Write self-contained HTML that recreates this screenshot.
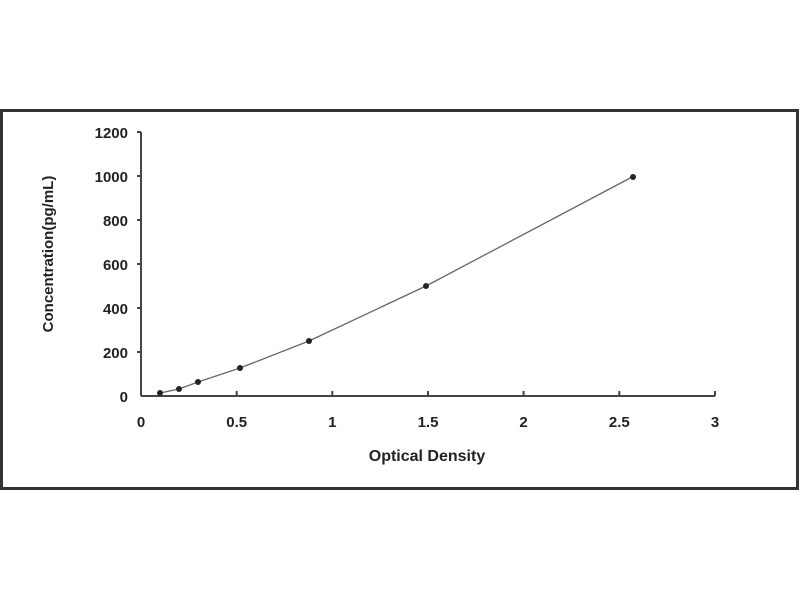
<!DOCTYPE html>
<html><head><style>body{margin:0;background:#fff}svg{display:block}</style></head><body>
<svg width="800" height="600" xmlns="http://www.w3.org/2000/svg" font-family="Liberation Sans, sans-serif" font-weight="bold" fill="#222">
<rect x="1.5" y="110.5" width="796" height="378" fill="#fff" stroke="#333" stroke-width="3"/>
<g stroke="#444" stroke-width="2" fill="none">
<line x1="141" y1="132" x2="141" y2="396"/>
<line x1="141" y1="396" x2="715" y2="396"/>
<line x1="137" y1="132" x2="141" y2="132"/><line x1="137" y1="176" x2="141" y2="176"/><line x1="137" y1="220" x2="141" y2="220"/><line x1="137" y1="264" x2="141" y2="264"/><line x1="137" y1="308" x2="141" y2="308"/><line x1="137" y1="352" x2="141" y2="352"/>
<line x1="236.7" y1="391" x2="236.7" y2="396"/><line x1="332.3" y1="391" x2="332.3" y2="396"/><line x1="428" y1="391" x2="428" y2="396"/><line x1="523.6" y1="391" x2="523.6" y2="396"/><line x1="619.3" y1="391" x2="619.3" y2="396"/><line x1="715" y1="391" x2="715" y2="396"/>
</g>
<g font-size="15" text-anchor="end">
<text x="128" y="138">1200</text><text x="128" y="182">1000</text><text x="128" y="226">800</text><text x="128" y="270">600</text><text x="128" y="314">400</text><text x="128" y="358">200</text><text x="128" y="402">0</text>
</g>
<g font-size="15" text-anchor="middle">
<text x="141" y="427">0</text><text x="236.7" y="427">0.5</text><text x="332.3" y="427">1</text><text x="428" y="427">1.5</text><text x="523.6" y="427">2</text><text x="619.3" y="427">2.5</text><text x="715" y="427">3</text>
</g>
<text x="427" y="461" font-size="16" text-anchor="middle">Optical Density</text>
<text transform="translate(53,254) rotate(-90)" font-size="15" text-anchor="middle">Concentration(pg/mL)</text>
<path d="M160,393 L179,389 L198,382 L240,368 L309,341 L426,286 L634,176" fill="none" stroke="#666" stroke-width="1.3"/>
<g fill="#223">
<circle cx="160" cy="393" r="3"/><circle cx="179" cy="389" r="3"/><circle cx="198" cy="382" r="3"/><circle cx="240" cy="368" r="3"/><circle cx="309" cy="341" r="3"/><circle cx="426" cy="286" r="3"/><circle cx="633" cy="177" r="3"/>
</g>
</svg>
</body></html>
